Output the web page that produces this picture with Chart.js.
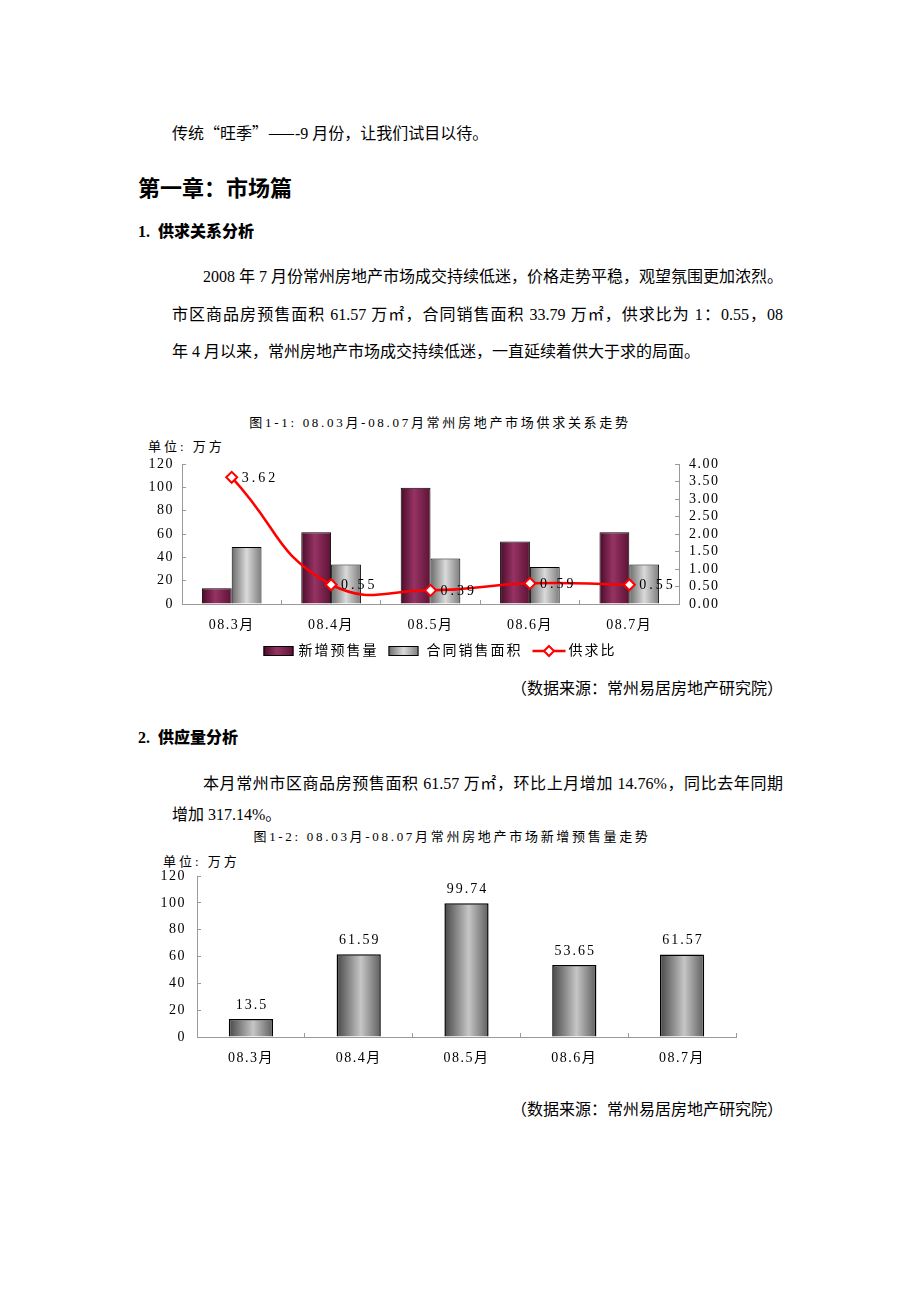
<!DOCTYPE html>
<html>
<head>
<meta charset="utf-8">
<script src="https://cdn.jsdelivr.net/npm/chart.js@4.4.0/dist/chart.umd.min.js"></script>
<style>
body { margin: 0; background: #fff; }
.page { position: relative; width: 920px; height: 1302px; font-family: "Liberation Serif", "Noto Sans CJK SC", serif; color: #000; }
.t { position: absolute; white-space: nowrap; font-size: 16px; line-height: 20px; }
.j { text-align: justify; text-align-last: justify; }
.c { font-family: "Noto Sans CJK SC", sans-serif; }
.h1 { position: absolute; font-family: "Noto Sans CJK SC", sans-serif; font-weight: bold; font-size: 22px; line-height: 26px; white-space: nowrap; }
.h2 { position: absolute; font-family: "Liberation Serif", "Noto Sans CJK SC", serif; font-weight: bold; font-size: 16px; line-height: 20px; white-space: nowrap; }
.h2 b { font-family: "Noto Sans CJK SC", sans-serif; margin-left: 8px; }
.ct { position: absolute; font-size: 13px; line-height: 16px; letter-spacing: 2.7px; white-space: nowrap; text-align: center; }
.unit { position: absolute; font-size: 13px; line-height: 16px; letter-spacing: 3px; white-space: nowrap; }
.src { position: absolute; font-size: 16px; line-height: 20px; white-space: nowrap; text-align: right; }
.box { position: absolute; }
</style>
</head>
<body>
<div class="page">
  <div class="t" style="left:172px;top:122px;">传统<span class="c">“</span>旺季<span class="c">”——</span>-9 月份，让我们试目以待。</div>
  <div class="h1" style="left:138px;top:173px;">第一章：市场篇</div>
  <div class="h2" style="left:138px;top:220px;">1.<b>供求关系分析</b></div>

  <div class="t j" style="left:203px;top:267px;width:580px;">2008 年 7 月份常州房地产市场成交持续低迷，价格走势平稳，观望氛围更加浓烈。</div>
  <div class="t j" style="left:172px;top:305px;width:611px;">市区商品房预售面积 61.57 万㎡，合同销售面积 33.79 万㎡，供求比为 1：0.55，08</div>
  <div class="t" style="left:172px;top:342px;">年 4 月以来，常州房地产市场成交持续低迷，一直延续着供大于求的局面。</div>

  <div class="ct" style="left:140px;top:415px;width:600px;">图1-1: 08.03月-08.07月常州房地产市场供求关系走势</div>
  <div class="unit" style="left:148px;top:439px;">单位: 万方</div>
  <div class="box" style="left:140px;top:450px;width:600px;height:222px;"><canvas id="chart1"></canvas></div>
  <div class="src" style="left:433px;top:679px;width:350px;">（数据来源：常州易居房地产研究院）</div>

  <div class="h2" style="left:138px;top:726px;">2.<b>供应量分析</b></div>
  <div class="t j" style="left:203px;top:774px;width:580px;">本月常州市区商品房预售面积 61.57 万㎡，环比上月增加 14.76%，同比去年同期</div>
  <div class="t" style="left:172px;top:805px;">增加 317.14%。</div>

  <div class="ct" style="left:152px;top:829px;width:600px;">图1-2: 08.03月-08.07月常州房地产市场新增预售量走势</div>
  <div class="unit" style="left:163px;top:854px;">单位: 万方</div>
  <div class="box" style="left:140px;top:862px;width:600px;height:215px;"><canvas id="chart2"></canvas></div>
  <div class="src" style="left:433px;top:1100px;width:350px;">（数据来源：常州易居房地产研究院）</div>
</div>

<script>
const months = ['08.3月', '08.4月', '08.5月', '08.6月', '08.7月'];
const newSupply = [13.5, 61.59, 99.74, 53.65, 61.57];
const contractSales = [48.87, 33.87, 38.90, 31.65, 33.79];
const supplyRatio = [3.62, 0.55, 0.39, 0.59, 0.55];
const seriesNames = ['新增预售量', '合同销售面积', '供求比'];
const areaTicks = { min: 0, max: 120, step: 20 };
const ratioTicks = { min: 0, max: 4, step: 0.5 };

const fontFamily = '"Liberation Serif", "Noto Sans CJK SC", serif';
const axisGray = '#9a9a9a';

const maroonStops = [[0, '#4a0b29'], [0.45, '#963364'], [1, '#5c1234']];
const greyStops = [[0, '#6a6a6a'], [0.5, '#dadada'], [1, '#7c7c7c']];
const darkGreyStops = [[0, '#474747'], [0.55, '#c6c6c6'], [1, '#5e5e5e']];

function hGradient(ctx, x0, x1, stops) {
    const g = ctx.createLinearGradient(x0, 0, x1, 0);
    stops.forEach(s => g.addColorStop(s[0], s[1]));
    return g;
}

// gradient across one bar, worked out from the x scale
function barFill(stops, slot, slots, catPct, fallback) {
    return function(context) {
        const chart = context.chart;
        const xs = chart.scales.x;
        if (!chart.chartArea || !xs) return fallback;
        const center = xs.getPixelForValue(context.dataIndex);
        const catW = xs.width / months.length;
        const barW = catW * catPct / slots;
        const left = center - catW * catPct / 2 + barW * slot;
        return hGradient(chart.ctx, left, left + barW, stops);
    };
}

const spacing = {
    id: 'spacing',
    beforeDraw(chart) {
        chart.ctx.letterSpacing = '1.5px';
    }
};

const ratioLabels = {
    id: 'ratioLabels',
    afterDatasetsDraw(chart) {
        const ctx = chart.ctx;
        const meta = chart.getDatasetMeta(2);
        ctx.save();
        ctx.letterSpacing = '3px';
        ctx.font = '14px ' + fontFamily;
        ctx.fillStyle = '#000';
        ctx.textAlign = 'left';
        ctx.textBaseline = 'middle';
        meta.data.forEach((pt, i) => {
            ctx.fillText(supplyRatio[i].toFixed(2), pt.x + 10, pt.y + 1);
        });
        ctx.restore();
    }
};

const legendRow = {
    id: 'legendRow',
    afterDraw(chart) {
        const ctx = chart.ctx;
        ctx.save();
        ctx.letterSpacing = '2px';
        ctx.font = '14px ' + fontFamily;
        ctx.textBaseline = 'middle';
        ctx.fillStyle = '#000';
        const y = chart.height - 21;
        const boxW = 30, boxH = 10, lineW = 33;
        const widths = seriesNames.map(n => ctx.measureText(n).width);
        const total = boxW + 5 + widths[0] + 10 + boxW + 8 + widths[1] + 10 + lineW + 3 + widths[2];
        let x = chart.width / 2 - total / 2;

        ctx.fillStyle = hGradient(ctx, x, x + boxW, maroonStops);
        ctx.fillRect(x, y - boxH / 2, boxW, boxH);
        ctx.strokeStyle = '#000';
        ctx.lineWidth = 1;
        ctx.strokeRect(x + 0.5, y - boxH / 2 + 0.5, boxW - 1, boxH - 1);
        x += boxW + 5;
        ctx.fillStyle = '#000';
        ctx.fillText(seriesNames[0], x, y);
        x += widths[0] + 10;

        ctx.fillStyle = hGradient(ctx, x, x + boxW, greyStops);
        ctx.fillRect(x, y - boxH / 2, boxW, boxH);
        ctx.strokeRect(x + 0.5, y - boxH / 2 + 0.5, boxW - 1, boxH - 1);
        x += boxW + 8;
        ctx.fillStyle = '#000';
        ctx.fillText(seriesNames[1], x, y);
        x += widths[1] + 10;

        ctx.strokeStyle = '#ff0000';
        ctx.lineWidth = 2.5;
        ctx.beginPath();
        ctx.moveTo(x, y);
        ctx.lineTo(x + lineW, y);
        ctx.stroke();
        const cx = x + lineW / 2;
        ctx.beginPath();
        ctx.moveTo(cx, y - 5);
        ctx.lineTo(cx + 5, y);
        ctx.lineTo(cx, y + 5);
        ctx.lineTo(cx - 5, y);
        ctx.closePath();
        ctx.fillStyle = '#fff';
        ctx.fill();
        ctx.lineWidth = 2;
        ctx.stroke();
        x += lineW + 3;
        ctx.fillStyle = '#000';
        ctx.fillText(seriesNames[2], x, y);
        ctx.restore();
    }
};

const barLabels = {
    id: 'barLabels',
    afterDatasetsDraw(chart) {
        const ctx = chart.ctx;
        const meta = chart.getDatasetMeta(0);
        ctx.save();
        ctx.letterSpacing = '2px';
        ctx.font = '14px ' + fontFamily;
        ctx.fillStyle = '#000';
        ctx.textAlign = 'center';
        ctx.textBaseline = 'middle';
        meta.data.forEach((bar, i) => {
            ctx.fillText(String(newSupply[i]), bar.x + 1, bar.y - 14);
        });
        ctx.restore();
    }
};

function tickFont() {
    return { family: fontFamily, size: 14 };
}

function valueAxis(position, cfg, width, padding, fmt) {
    return {
        type: 'linear',
        position: position,
        min: cfg.min,
        max: cfg.max,
        border: { color: axisGray, width: 1 },
        grid: { drawOnChartArea: false, color: axisGray, tickLength: -4 },
        ticks: {
            stepSize: cfg.step,
            autoSkip: false,
            color: '#000',
            font: tickFont(),
            padding: padding,
            callback: fmt
        },
        afterFit: (scale) => {
            scale.width = width;
            // the tick padding is only meant sideways here
            scale.paddingTop = 0;
            scale.paddingBottom = 0;
        }
    };
}

function categoryAxis(height) {
    return {
        type: 'category',
        border: { color: axisGray, width: 1 },
        grid: { drawOnChartArea: false, color: axisGray, tickLength: -4, offset: true },
        ticks: { color: '#000', font: tickFont(), padding: 17, maxRotation: 0, autoSkip: false },
        afterFit: (scale) => { scale.height = height; }
    };
}

new Chart(document.getElementById('chart1').getContext('2d'), {
    type: 'bar',
    data: {
        labels: months,
        datasets: [{
            label: seriesNames[0],
            data: newSupply,
            backgroundColor: barFill(maroonStops, 0, 2, 0.6, '#7a1f4a'),
            borderColor: '#000',
            borderWidth: 1,
            categoryPercentage: 0.6,
            barPercentage: 1,
            yAxisID: 'y',
            order: 2
        }, {
            label: seriesNames[1],
            data: contractSales,
            backgroundColor: barFill(greyStops, 1, 2, 0.6, '#aaaaaa'),
            borderColor: '#000',
            borderWidth: 1,
            categoryPercentage: 0.6,
            barPercentage: 1,
            yAxisID: 'y',
            order: 2
        }, {
            type: 'line',
            label: seriesNames[2],
            data: supplyRatio,
            borderColor: '#ff0000',
            borderWidth: 2.5,
            tension: 0.5,
            fill: false,
            pointStyle: 'rectRot',
            pointRadius: 5.5,
            pointBackgroundColor: '#fff',
            pointBorderColor: '#ff0000',
            pointBorderWidth: 2,
            yAxisID: 'y1',
            order: 1
        }]
    },
    options: {
        responsive: true,
        maintainAspectRatio: false,
        animation: false,
        layout: { padding: { top: 14, bottom: 18, left: 0, right: 0 } },
        plugins: {
            legend: { display: false },
            tooltip: { enabled: false }
        },
        scales: {
            x: categoryAxis(50),
            y: valueAxis('left', areaTicks, 42, 12, v => v),
            y1: valueAxis('right', ratioTicks, 61, 14, v => Number(v).toFixed(2))
        }
    },
    plugins: [spacing, ratioLabels, legendRow]
});

new Chart(document.getElementById('chart2').getContext('2d'), {
    type: 'bar',
    data: {
        labels: months,
        datasets: [{
            label: seriesNames[0],
            data: newSupply,
            backgroundColor: barFill(darkGreyStops, 0, 1, 0.41, '#999999'),
            borderColor: '#000',
            borderWidth: 1.5,
            categoryPercentage: 0.41,
            barPercentage: 1
        }]
    },
    options: {
        responsive: true,
        maintainAspectRatio: false,
        animation: false,
        layout: { padding: { top: 14, bottom: 4, left: 0, right: 4 } },
        plugins: {
            legend: { display: false },
            tooltip: { enabled: false }
        },
        scales: {
            x: categoryAxis(36),
            y: valueAxis('left', areaTicks, 57, 15, v => v)
        }
    },
    plugins: [spacing, barLabels]
});
</script>
</body>
</html>
